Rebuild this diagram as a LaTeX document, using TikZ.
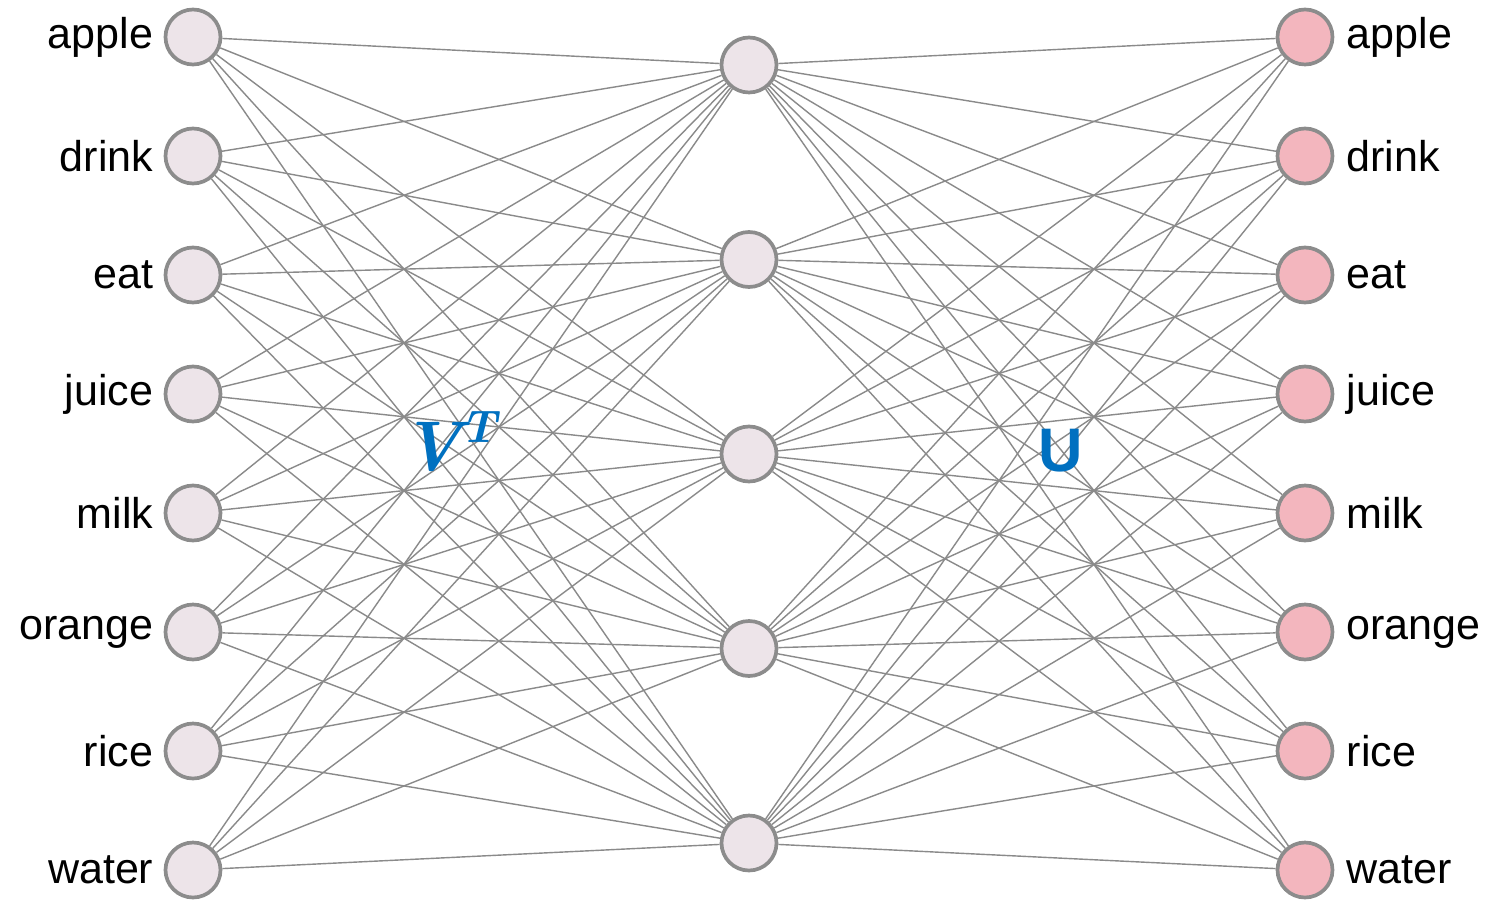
\documentclass[tikz,border=0pt]{standalone}
\usepackage{amsmath,amssymb}
\usepackage{fontspec}
\newfontfamily\wordfont{Liberation Sans}
\usetikzlibrary{positioning,backgrounds}

\definecolor{edgegray}{HTML}{8A8A8A}
\definecolor{ringgray}{HTML}{8C8C8C}
\definecolor{paleneuron}{HTML}{EDE4E9}
\definecolor{pinkneuron}{HTML}{F3B6BE}
\definecolor{matblue}{HTML}{0070C0}

\begin{document}
\begin{tikzpicture}[
    neuron/.style={
        circle,
        draw=ringgray,
        line width=2.1pt,
        fill=paleneuron,
        minimum size=1.1cm,
        inner sep=0pt
    },
    outneuron/.style={
        neuron,
        fill=pinkneuron
    },
    word/.style={
        font=\wordfont\fontsize{24.5}{28}\selectfont,
        inner sep=0pt
    },
    link/.style={draw=edgegray, line width=0.8pt}
]
\useasboundingbox (0,0) rectangle (29.76,18);

% input words
\foreach \w [count=\i] in {apple,drink,eat,juice,milk,orange,rice,water}
    \node[neuron, label={[word, label distance=0.2cm]left:\w}] (in\i) at (3.86,{17.26-2.38*(\i-1)}) {};

% hidden layer
\foreach \j in {1,...,5}
    \node[neuron] (hid\j) at (14.98,{16.70-3.89*(\j-1)}) {};

% output words
\foreach \w [count=\i] in {apple,drink,eat,juice,milk,orange,rice,water}
    \node[outneuron, label={[word, label distance=0.24cm]right:\w}] (out\i) at (26.10,{17.26-2.38*(\i-1)}) {};

\begin{scope}[on background layer]
\foreach \i in {1,...,8}
    \foreach \j in {1,...,5} {
        \draw[link] (in\i) -- (hid\j);
        \draw[link] (hid\j) -- (out\i);
    }
\end{scope}

\node[text=matblue, inner sep=0pt, font=\bfseries\itshape\fontsize{40}{44}\selectfont] (vt) at (8.98,9.16)
    {V\kern-0.02em\raisebox{16pt}{\fontsize{26}{28}\selectfont T}};
\node[text=matblue, font=\wordfont\bfseries\fontsize{35}{40}\selectfont] (u) at (21.22,8.98) {U};

\end{tikzpicture}
\end{document}
